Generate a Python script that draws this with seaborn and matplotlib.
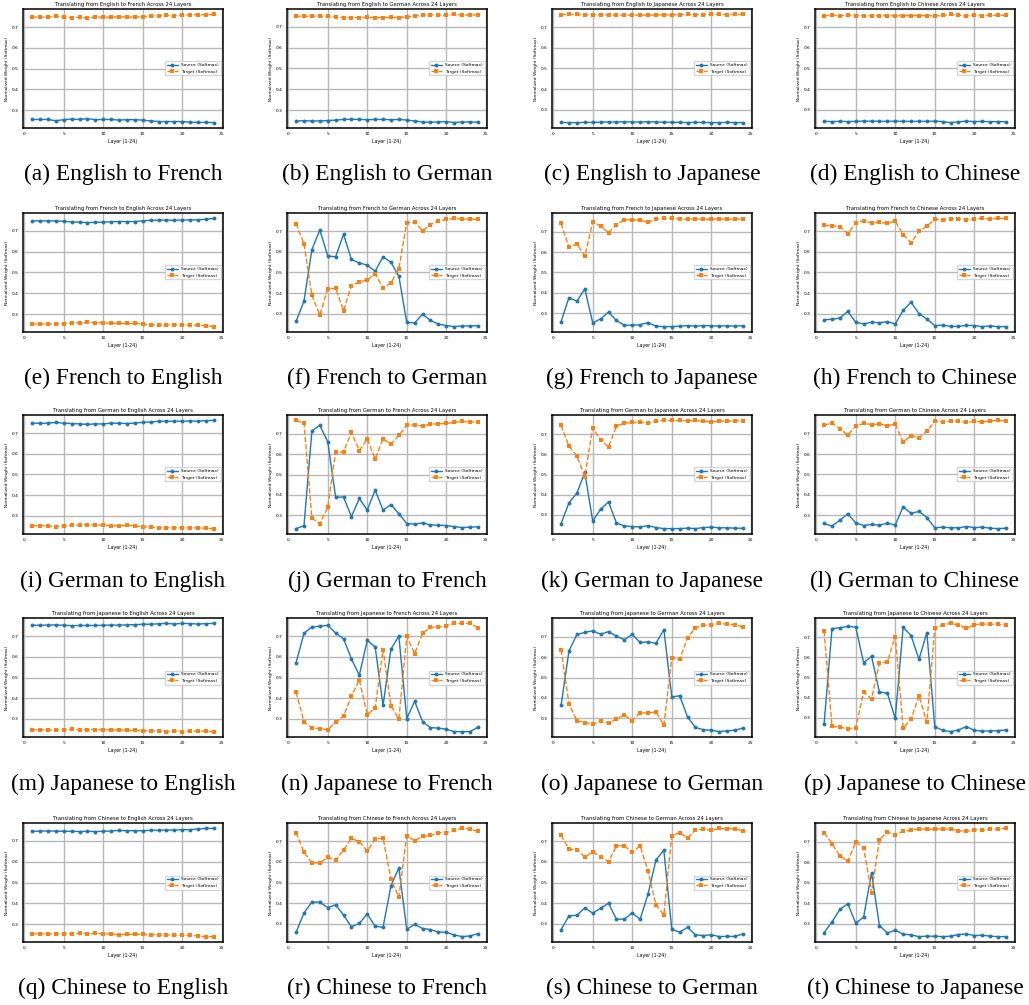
import numpy as np
import matplotlib
matplotlib.use("Agg")
import matplotlib.pyplot as plt
import seaborn as sns

layers = list(range(1, 25))

# English -> X
en_fr_src = [0.255, 0.255, 0.255, 0.249, 0.254, 0.257, 0.255, 0.259, 0.254, 0.255, 0.255, 0.252, 0.254, 0.254, 0.252, 0.248, 0.245, 0.245, 0.245, 0.245, 0.242, 0.241, 0.241, 0.240]
en_fr_tgt = [0.748, 0.748, 0.748, 0.753, 0.749, 0.745, 0.748, 0.744, 0.748, 0.748, 0.748, 0.750, 0.748, 0.748, 0.750, 0.753, 0.755, 0.756, 0.755, 0.756, 0.759, 0.760, 0.759, 0.761]
en_de_src = [0.248, 0.249, 0.248, 0.248, 0.250, 0.252, 0.255, 0.256, 0.255, 0.254, 0.255, 0.255, 0.254, 0.255, 0.252, 0.248, 0.243, 0.242, 0.243, 0.245, 0.240, 0.243, 0.243, 0.242]
en_de_tgt = [0.752, 0.751, 0.752, 0.752, 0.750, 0.748, 0.745, 0.744, 0.745, 0.746, 0.745, 0.745, 0.746, 0.745, 0.748, 0.752, 0.757, 0.758, 0.757, 0.755, 0.760, 0.757, 0.757, 0.758]
en_ja_src = [0.238, 0.237, 0.237, 0.238, 0.238, 0.239, 0.240, 0.240, 0.241, 0.240, 0.240, 0.241, 0.240, 0.239, 0.239, 0.238, 0.237, 0.238, 0.238, 0.237, 0.237, 0.238, 0.237, 0.237]
en_ja_tgt = [0.762, 0.763, 0.763, 0.762, 0.762, 0.761, 0.760, 0.760, 0.759, 0.760, 0.760, 0.759, 0.760, 0.761, 0.761, 0.762, 0.763, 0.762, 0.762, 0.763, 0.763, 0.762, 0.763, 0.763]
en_zh_src = [0.244, 0.243, 0.244, 0.243, 0.244, 0.245, 0.245, 0.244, 0.244, 0.245, 0.244, 0.244, 0.244, 0.244, 0.245, 0.243, 0.238, 0.242, 0.245, 0.243, 0.244, 0.242, 0.243, 0.242]
en_zh_tgt = [0.756, 0.757, 0.756, 0.757, 0.756, 0.755, 0.755, 0.756, 0.756, 0.755, 0.756, 0.756, 0.756, 0.756, 0.755, 0.757, 0.762, 0.758, 0.755, 0.757, 0.756, 0.758, 0.757, 0.758]

# French -> X
fr_en_src = [0.748, 0.748, 0.748, 0.748, 0.746, 0.743, 0.742, 0.740, 0.741, 0.742, 0.744, 0.745, 0.745, 0.745, 0.748, 0.751, 0.752, 0.752, 0.751, 0.752, 0.753, 0.753, 0.756, 0.760]
fr_en_tgt = [0.252, 0.252, 0.252, 0.252, 0.254, 0.257, 0.258, 0.260, 0.259, 0.258, 0.256, 0.255, 0.255, 0.255, 0.252, 0.249, 0.248, 0.248, 0.249, 0.248, 0.247, 0.247, 0.244, 0.240]
fr_de_src = [0.263, 0.362, 0.611, 0.706, 0.580, 0.576, 0.685, 0.563, 0.546, 0.536, 0.506, 0.576, 0.549, 0.482, 0.258, 0.256, 0.298, 0.268, 0.250, 0.243, 0.238, 0.241, 0.241, 0.243]
fr_de_tgt = [0.737, 0.638, 0.389, 0.294, 0.420, 0.424, 0.315, 0.437, 0.454, 0.464, 0.494, 0.424, 0.451, 0.518, 0.742, 0.744, 0.702, 0.732, 0.750, 0.757, 0.762, 0.759, 0.759, 0.757]
fr_ja_src = [0.259, 0.377, 0.359, 0.420, 0.252, 0.272, 0.305, 0.264, 0.241, 0.241, 0.243, 0.254, 0.236, 0.234, 0.234, 0.236, 0.239, 0.236, 0.239, 0.238, 0.236, 0.238, 0.236, 0.239]
fr_ja_tgt = [0.741, 0.623, 0.641, 0.580, 0.748, 0.728, 0.695, 0.736, 0.759, 0.759, 0.757, 0.746, 0.764, 0.766, 0.766, 0.764, 0.761, 0.764, 0.761, 0.762, 0.764, 0.762, 0.764, 0.761]
fr_zh_src = [0.271, 0.272, 0.279, 0.311, 0.258, 0.250, 0.258, 0.256, 0.261, 0.250, 0.316, 0.355, 0.300, 0.274, 0.242, 0.244, 0.238, 0.238, 0.243, 0.242, 0.237, 0.240, 0.237, 0.237]
fr_zh_tgt = [0.729, 0.728, 0.721, 0.689, 0.742, 0.750, 0.742, 0.744, 0.739, 0.750, 0.684, 0.645, 0.700, 0.726, 0.758, 0.756, 0.762, 0.762, 0.757, 0.758, 0.763, 0.760, 0.763, 0.763]

# German -> X
de_en_src = [0.748, 0.747, 0.748, 0.751, 0.748, 0.746, 0.744, 0.742, 0.744, 0.744, 0.748, 0.747, 0.746, 0.748, 0.752, 0.753, 0.757, 0.757, 0.757, 0.757, 0.758, 0.757, 0.760, 0.761]
de_en_tgt = [0.252, 0.253, 0.252, 0.249, 0.252, 0.254, 0.256, 0.258, 0.256, 0.256, 0.252, 0.253, 0.254, 0.252, 0.248, 0.247, 0.243, 0.243, 0.243, 0.243, 0.242, 0.243, 0.240, 0.239]
de_fr_src = [0.234, 0.248, 0.715, 0.741, 0.662, 0.389, 0.389, 0.293, 0.382, 0.325, 0.423, 0.325, 0.352, 0.307, 0.259, 0.256, 0.262, 0.252, 0.251, 0.249, 0.244, 0.239, 0.241, 0.243]
de_fr_tgt = [0.766, 0.752, 0.285, 0.259, 0.338, 0.611, 0.611, 0.707, 0.618, 0.675, 0.577, 0.675, 0.648, 0.693, 0.741, 0.744, 0.738, 0.748, 0.749, 0.751, 0.756, 0.761, 0.759, 0.757]
de_ja_src = [0.257, 0.360, 0.408, 0.510, 0.269, 0.328, 0.364, 0.260, 0.245, 0.242, 0.240, 0.247, 0.237, 0.232, 0.232, 0.232, 0.234, 0.232, 0.237, 0.239, 0.236, 0.236, 0.234, 0.234]
de_ja_tgt = [0.743, 0.640, 0.592, 0.490, 0.731, 0.672, 0.636, 0.740, 0.755, 0.758, 0.760, 0.753, 0.763, 0.768, 0.768, 0.768, 0.766, 0.768, 0.763, 0.761, 0.764, 0.764, 0.766, 0.766]
de_zh_src = [0.261, 0.248, 0.277, 0.308, 0.264, 0.251, 0.256, 0.253, 0.262, 0.254, 0.342, 0.310, 0.320, 0.290, 0.240, 0.243, 0.240, 0.240, 0.246, 0.241, 0.243, 0.238, 0.236, 0.238]
de_zh_tgt = [0.740, 0.752, 0.723, 0.692, 0.736, 0.749, 0.744, 0.747, 0.738, 0.746, 0.658, 0.690, 0.680, 0.710, 0.760, 0.757, 0.760, 0.760, 0.754, 0.759, 0.757, 0.762, 0.764, 0.762]

# Japanese -> X
ja_en_src = [0.752, 0.752, 0.753, 0.754, 0.752, 0.750, 0.751, 0.751, 0.751, 0.752, 0.753, 0.753, 0.754, 0.755, 0.757, 0.757, 0.759, 0.761, 0.758, 0.761, 0.760, 0.758, 0.760, 0.761]
ja_en_tgt = [0.248, 0.248, 0.247, 0.246, 0.248, 0.250, 0.249, 0.249, 0.249, 0.248, 0.247, 0.247, 0.246, 0.245, 0.243, 0.243, 0.241, 0.239, 0.242, 0.239, 0.240, 0.242, 0.240, 0.239]
ja_fr_src = [0.571, 0.713, 0.744, 0.747, 0.752, 0.715, 0.687, 0.590, 0.511, 0.679, 0.648, 0.365, 0.637, 0.700, 0.302, 0.385, 0.287, 0.258, 0.256, 0.250, 0.239, 0.239, 0.239, 0.260]
ja_fr_tgt = [0.429, 0.287, 0.256, 0.253, 0.248, 0.285, 0.313, 0.410, 0.489, 0.321, 0.352, 0.635, 0.363, 0.300, 0.698, 0.615, 0.713, 0.742, 0.744, 0.750, 0.761, 0.761, 0.761, 0.740]
ja_de_src = [0.365, 0.630, 0.710, 0.720, 0.728, 0.711, 0.724, 0.702, 0.684, 0.710, 0.671, 0.674, 0.667, 0.734, 0.405, 0.411, 0.307, 0.256, 0.245, 0.243, 0.236, 0.240, 0.243, 0.253]
ja_de_tgt = [0.635, 0.370, 0.290, 0.280, 0.272, 0.289, 0.276, 0.298, 0.316, 0.290, 0.329, 0.326, 0.333, 0.266, 0.595, 0.589, 0.693, 0.744, 0.755, 0.757, 0.764, 0.760, 0.757, 0.747]
ja_zh_src = [0.270, 0.742, 0.747, 0.753, 0.750, 0.573, 0.605, 0.428, 0.423, 0.297, 0.750, 0.708, 0.590, 0.722, 0.257, 0.238, 0.232, 0.240, 0.257, 0.238, 0.235, 0.235, 0.237, 0.240]
ja_zh_tgt = [0.730, 0.258, 0.253, 0.247, 0.250, 0.427, 0.395, 0.572, 0.577, 0.703, 0.250, 0.292, 0.410, 0.278, 0.743, 0.762, 0.768, 0.760, 0.743, 0.762, 0.765, 0.765, 0.763, 0.760]

# Chinese -> X
zh_en_src = [0.745, 0.746, 0.747, 0.746, 0.745, 0.745, 0.744, 0.745, 0.744, 0.745, 0.747, 0.749, 0.748, 0.748, 0.748, 0.750, 0.750, 0.751, 0.751, 0.753, 0.753, 0.756, 0.759, 0.759]
zh_en_tgt = [0.255, 0.254, 0.253, 0.254, 0.255, 0.255, 0.256, 0.255, 0.256, 0.255, 0.253, 0.251, 0.252, 0.252, 0.252, 0.250, 0.250, 0.249, 0.249, 0.247, 0.247, 0.244, 0.241, 0.241]
zh_fr_src = [0.260, 0.353, 0.406, 0.405, 0.379, 0.392, 0.343, 0.286, 0.303, 0.348, 0.289, 0.284, 0.484, 0.571, 0.274, 0.298, 0.278, 0.273, 0.261, 0.260, 0.247, 0.239, 0.242, 0.253]
zh_fr_tgt = [0.740, 0.646, 0.594, 0.595, 0.621, 0.608, 0.657, 0.713, 0.697, 0.652, 0.710, 0.716, 0.516, 0.429, 0.726, 0.702, 0.722, 0.727, 0.739, 0.740, 0.753, 0.761, 0.758, 0.747]
zh_de_src = [0.273, 0.339, 0.342, 0.377, 0.352, 0.376, 0.400, 0.323, 0.323, 0.353, 0.323, 0.445, 0.608, 0.656, 0.274, 0.260, 0.284, 0.247, 0.244, 0.248, 0.239, 0.240, 0.240, 0.252]
zh_de_tgt = [0.727, 0.661, 0.658, 0.623, 0.648, 0.624, 0.600, 0.677, 0.677, 0.647, 0.677, 0.555, 0.392, 0.344, 0.726, 0.740, 0.716, 0.753, 0.756, 0.752, 0.761, 0.760, 0.760, 0.748]
zh_ja_src = [0.256, 0.308, 0.369, 0.397, 0.302, 0.331, 0.549, 0.290, 0.254, 0.267, 0.248, 0.244, 0.236, 0.238, 0.238, 0.236, 0.238, 0.246, 0.249, 0.241, 0.243, 0.238, 0.236, 0.236]
zh_ja_tgt = [0.744, 0.692, 0.632, 0.604, 0.700, 0.670, 0.452, 0.711, 0.748, 0.735, 0.752, 0.757, 0.764, 0.762, 0.762, 0.764, 0.762, 0.755, 0.751, 0.759, 0.757, 0.762, 0.764, 0.766]

panels = [
    ("English", "French", en_fr_src, en_fr_tgt),
    ("English", "German", en_de_src, en_de_tgt),
    ("English", "Japanese", en_ja_src, en_ja_tgt),
    ("English", "Chinese", en_zh_src, en_zh_tgt),
    ("French", "English", fr_en_src, fr_en_tgt),
    ("French", "German", fr_de_src, fr_de_tgt),
    ("French", "Japanese", fr_ja_src, fr_ja_tgt),
    ("French", "Chinese", fr_zh_src, fr_zh_tgt),
    ("German", "English", de_en_src, de_en_tgt),
    ("German", "French", de_fr_src, de_fr_tgt),
    ("German", "Japanese", de_ja_src, de_ja_tgt),
    ("German", "Chinese", de_zh_src, de_zh_tgt),
    ("Japanese", "English", ja_en_src, ja_en_tgt),
    ("Japanese", "French", ja_fr_src, ja_fr_tgt),
    ("Japanese", "German", ja_de_src, ja_de_tgt),
    ("Japanese", "Chinese", ja_zh_src, ja_zh_tgt),
    ("Chinese", "English", zh_en_src, zh_en_tgt),
    ("Chinese", "French", zh_fr_src, zh_fr_tgt),
    ("Chinese", "German", zh_de_src, zh_de_tgt),
    ("Chinese", "Japanese", zh_ja_src, zh_ja_tgt),
]
letters = "abcdefghijklmnopqrst"

sns.set_style("whitegrid", {"axes.edgecolor": "black", "grid.color": "#b8b8b8",
                            "text.color": "black", "xtick.color": "black", "ytick.color": "black",
                            "axes.labelcolor": "black"})
plt.rcParams["font.family"] = ["DejaVu Sans"]

fig = plt.figure(figsize=(10.29, 10.05), dpi=100)
W, H = 1029, 1005

# axes layout in pixels
col_left = [23, 287, 552, 815]
row_top = [9, 213, 415, 618, 823]
ax_w, ax_h = 200, 119
caption_y = [174, 378, 581, 784, 988]

for i, (src_lang, tgt_lang, src, tgt) in enumerate(panels):
    r, c = divmod(i, 4)
    ax = fig.add_axes([col_left[c] / W, 1 - (row_top[r] + ax_h) / H, ax_w / W, ax_h / H])
    sns.lineplot(x=layers, y=src, ax=ax, color="#1f77b4", marker="o", markersize=2.8,
                 markeredgewidth=0, linewidth=1.0, label="Source (Softmax)")
    sns.lineplot(x=layers, y=tgt, ax=ax, color="#ff7f0e", marker="s", markersize=2.8,
                 markeredgewidth=0, linewidth=1.0, linestyle="--", label="Target (Softmax)")
    ax.set_xticks([0, 5, 10, 15, 20, 25])
    ax.set_yticks([0.3, 0.4, 0.5, 0.6, 0.7])
    ax.tick_params(labelsize=3.2, length=1.5, width=0.5, pad=1.5)
    ax.set_title(f"Translating from {src_lang} to {tgt_lang} Across 24 Layers", fontsize=3.8, pad=2)
    ax.set_xlabel("Layer (1-24)", fontsize=3.4, labelpad=2)
    ax.set_ylabel("Normalized Weight (Softmax)", fontsize=3.2, labelpad=2)
    ax.grid(True, linewidth=1.0)
    for s in ax.spines.values():
        s.set_linewidth(1.1)
    ax.legend(loc="center right", fontsize=3.2, frameon=True, handlelength=2.5, borderpad=0.4)
    fig.text((col_left[c] + ax_w / 2) / W, 1 - caption_y[r] / H,
             f"({letters[i]}) {src_lang} to {tgt_lang}",
             ha="center", va="center", fontsize=16.8, color="black", family="Liberation Serif")

fig.savefig("out.png", dpi=100, facecolor="white")
